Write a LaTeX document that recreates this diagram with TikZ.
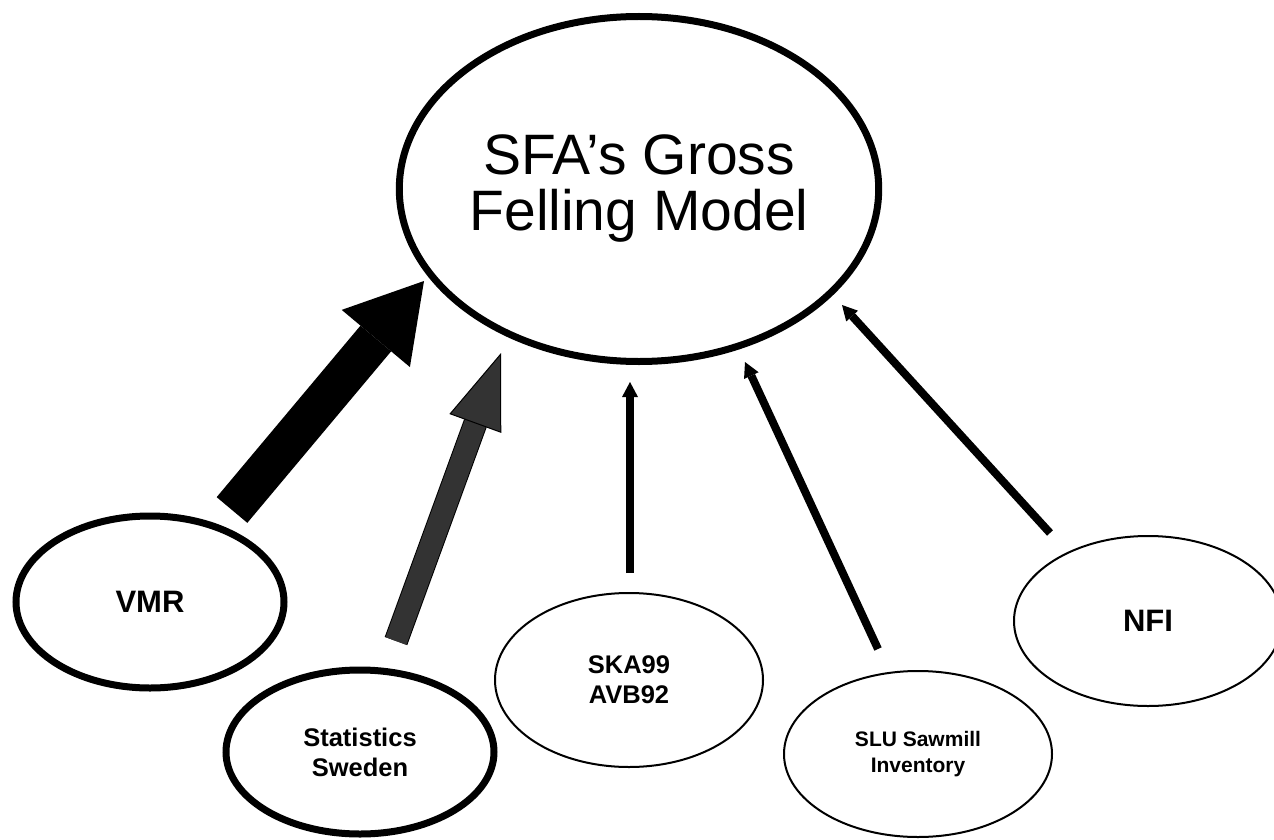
\documentclass[tikz,border=0pt]{standalone}
\usepackage{fontspec}
\setmainfont{Liberation Sans}
\usetikzlibrary{arrows.meta, shapes.geometric, positioning}

\definecolor{stat_grey}{HTML}{333333}

\tikzset{
    main_node/.style={ellipse, draw=black, line width=7pt, inner sep=0pt, minimum width=475pt, minimum height=345pt, text centered, align=center, font=\fontsize{57}{56}\selectfont},
    source_node/.style={ellipse, draw=black, inner sep=0pt, minimum width=268pt, text centered, align=center},
    thick_source/.style={source_node, line width=7pt},
    thin_source/.style={source_node, line width=2pt},
    big_font/.style={font=\fontsize{31}{36}\selectfont\bfseries},
    mid_font/.style={font=\fontsize{25.5}{30}\selectfont\bfseries},
    small_font/.style={font=\fontsize{21}{26}\selectfont\bfseries},
    block_arrow/.style={line width=40pt, -{Triangle[length=75pt, width=89pt, line width=0pt]}},
    grey_arrow/.style={draw=black, line width=1pt, double=stat_grey, double distance=22pt, -{Triangle[length=75pt, width=55pt, line width=1pt, fill=stat_grey]}},
    arrow/.style={line width=8pt, -{Triangle[length=15pt, width=16pt, line width=0pt]}},
}

\begin{document}
\begin{tikzpicture}[x=1pt, y=-1pt]
      \useasboundingbox (0,0) rectangle (1274,840);
      %%%%%%%%%%%%%%%%
      % GROSS MODEL  %
      %%%%%%%%%%%%%%%%
      \node (gross_model) [main_node] at (639,189)
            {SFA’s Gross \\ Felling Model};

      %%%%%%%%%%%%%%%%
      % DATA SOURCES %
      %%%%%%%%%%%%%%%%
      \node (vmr) [thick_source, big_font, minimum height=172pt] at (150,602)
            {VMR};
      \node (stats_sweden) [thick_source, mid_font, minimum height=164pt] at (360,752)
            {Statistics \\ Sweden};
      \node (ska_avb) [thin_source, mid_font, minimum height=174pt] at (629,680)
            {SKA99 \\ AVB92};
      \node (slu_sawmill) [thin_source, small_font, minimum height=166pt] at (918,754)
            {SLU Sawmill \\ Inventory};
      \node (nfi) [thin_source, big_font, minimum height=170pt] at (1148,621)
            {NFI};

      % arrow ends, kept off the ellipses
      \coordinate (vmr_out) at (232,510);
      \coordinate (vmr_in) at (424,281);
      \coordinate (stats_out) at (396,641);
      \coordinate (stats_in) at (501,353);
      \coordinate (ska_out) at (630,573);
      \coordinate (ska_in) at (630,382);
      \coordinate (slu_out) at (878,649);
      \coordinate (slu_in) at (745,362);
      \coordinate (nfi_out) at (1050,533);
      \coordinate (nfi_in) at (842,305);

      \draw [block_arrow] (vmr_out) -- (vmr_in);
      \draw [grey_arrow] (stats_out) -- (stats_in);
      \draw [arrow] (ska_out) -- (ska_in);
      \draw [arrow] (slu_out) -- (slu_in);
      \draw [arrow] (nfi_out) -- (nfi_in);
\end{tikzpicture}
\end{document}
